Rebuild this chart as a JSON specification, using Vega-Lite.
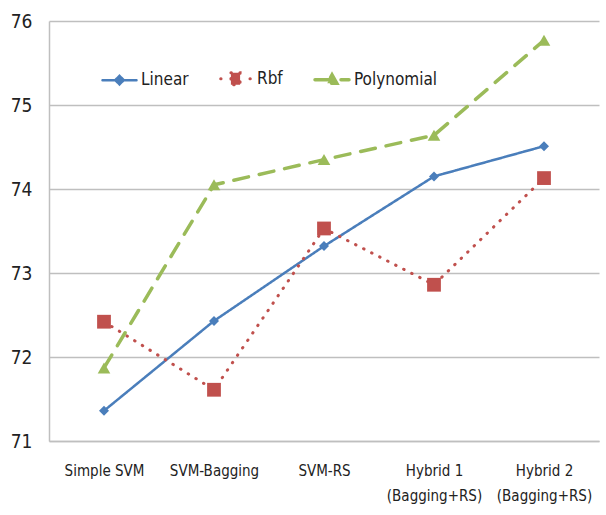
{
  "$schema": "https://vega.github.io/schema/vega-lite/v6.json",
  "width": 550,
  "height": 420,
  "autosize": {"type": "none"},
  "padding": {"left": 49, "top": 21, "right": 7, "bottom": 74},
  "background": "white",
  "config": {
    "view": {"stroke": null},
    "font": "DejaVu Sans Condensed, sans-serif"
  },
  "data": {
    "values": [
      {"method": "Simple SVM", "kernel": "Linear", "accuracy": 71.36},
      {"method": "SVM-Bagging", "kernel": "Linear", "accuracy": 72.43},
      {"method": "SVM-RS", "kernel": "Linear", "accuracy": 73.32},
      {"method": "Hybrid 1 (Bagging+RS)", "kernel": "Linear", "accuracy": 74.15},
      {"method": "Hybrid 2 (Bagging+RS)", "kernel": "Linear", "accuracy": 74.51},
      {"method": "Simple SVM", "kernel": "Rbf", "accuracy": 72.42},
      {"method": "SVM-Bagging", "kernel": "Rbf", "accuracy": 71.61},
      {"method": "SVM-RS", "kernel": "Rbf", "accuracy": 73.53},
      {"method": "Hybrid 1 (Bagging+RS)", "kernel": "Rbf", "accuracy": 72.86},
      {"method": "Hybrid 2 (Bagging+RS)", "kernel": "Rbf", "accuracy": 74.13},
      {"method": "Simple SVM", "kernel": "Polynomial", "accuracy": 71.87},
      {"method": "SVM-Bagging", "kernel": "Polynomial", "accuracy": 74.05},
      {"method": "SVM-RS", "kernel": "Polynomial", "accuracy": 74.35},
      {"method": "Hybrid 1 (Bagging+RS)", "kernel": "Polynomial", "accuracy": 74.64},
      {"method": "Hybrid 2 (Bagging+RS)", "kernel": "Polynomial", "accuracy": 75.77}
    ]
  },
  "encoding": {
    "x": {
      "field": "method",
      "type": "nominal",
      "sort": ["Simple SVM", "SVM-Bagging", "SVM-RS", "Hybrid 1 (Bagging+RS)", "Hybrid 2 (Bagging+RS)"],
      "axis": {
        "title": null,
        "labelAngle": 0,
        "ticks": false,
        "grid": false,
        "domainColor": "#BFBFBF",
        "domainWidth": 1.5,
        "labelFontSize": 15,
        "labelColor": "#222222",
        "labelPadding": 22,
        "labelLineHeight": 25,
        "labelExpr": "indexof(datum.label, ' (') > 0 ? [substring(datum.label, 0, indexof(datum.label, ' (')), substring(datum.label, indexof(datum.label, ' (') + 1)] : datum.label"
      }
    },
    "y": {
      "field": "accuracy",
      "type": "quantitative",
      "scale": {"domain": [71, 76], "zero": false, "nice": false},
      "axis": {
        "title": null,
        "values": [71, 72, 73, 74, 75, 76],
        "grid": true,
        "gridColor": "#BFBFBF",
        "gridWidth": 1.5,
        "ticks": false,
        "domainColor": "#BFBFBF",
        "domainWidth": 1.5,
        "labelFontSize": 19,
        "labelPadding": 17,
        "labelColor": "#222222",
        "labelFlush": false
      }
    }
  },
  "layer": [
    {
      "mark": {"type": "line", "strokeCap": "round", "strokeJoin": "round"},
      "encoding": {
        "color": {
          "field": "kernel",
          "type": "nominal",
          "scale": {"domain": ["Linear", "Rbf", "Polynomial"], "range": ["#4A7EBB", "#C0504D", "#9BBB59"]},
          "legend": {
            "title": null,
            "orient": "none",
            "direction": "horizontal",
            "legendX": 52,
            "legendY": 39,
            "padding": 0,
            "symbolSize": 1156,
            "labelFontSize": 17,
            "labelColor": "#222222",
            "labelOffset": 3,
            "columnPadding": 25,
            "encode": {
              "symbols": {
                "update": {
                  "shape": {"signal": "datum.value === 'Linear' ? 'M-1,0L1,0M0,-0.25L0.25,0L0,0.25L-0.25,0Z' : datum.value === 'Rbf' ? 'M-0.87,0L-0.85,0M0.85,0L0.87,0M-0.27,-0.35L0.27,-0.35L0.27,0.35L-0.27,0.35Z' : 'M-1,0L1,0M0,-0.28L0.28,0.22L-0.28,0.22Z'"},
                  "fill": {"signal": "datum.value === 'Linear' ? '#4A7EBB' : datum.value === 'Rbf' ? '#C0504D' : '#9BBB59'"},
                  "stroke": {"signal": "datum.value === 'Linear' ? '#4A7EBB' : datum.value === 'Rbf' ? '#C0504D' : '#9BBB59'"},
                  "strokeWidth": {"signal": "datum.value === 'Linear' ? 2.5 : datum.value === 'Rbf' ? 3.5 : 4"},
                  "strokeDash": {"signal": "datum.value === 'Polynomial' ? [8, 5] : [1, 0]"},
                  "strokeCap": {"value": "round"},
                  "size": {"value": 1156},
                  "opacity": {"value": 1},
                  "fillOpacity": {"value": 1}
                }
              }
            }
          }
        },
        "strokeDash": {
          "field": "kernel",
          "type": "nominal",
          "scale": {"domain": ["Linear", "Rbf", "Polynomial"], "range": [[1, 0], [0.5, 8.5], [15, 11]]},
          "legend": null
        },
        "strokeWidth": {
          "field": "kernel",
          "type": "nominal",
          "scale": {"domain": ["Linear", "Rbf", "Polynomial"], "range": [2.5, 3.5, 4]},
          "legend": null
        }
      }
    },
    {
      "mark": {"type": "point", "filled": true, "opacity": 1},
      "encoding": {
        "color": {
          "field": "kernel",
          "type": "nominal",
          "scale": {"domain": ["Linear", "Rbf", "Polynomial"], "range": ["#4A7EBB", "#C0504D", "#9BBB59"]}
        },
        "size": {
          "condition": [
            {"test": "datum.kernel === 'Linear'", "value": 100},
            {"test": "datum.kernel === 'Rbf'", "value": 190}
          ],
          "value": 160
        },
        "shape": {
          "condition": [
            {"test": "datum.kernel === 'Linear'", "value": "diamond"},
            {"test": "datum.kernel === 'Rbf'", "value": "square"}
          ],
          "value": "triangle-up"
        }
      }
    }
  ]
}
